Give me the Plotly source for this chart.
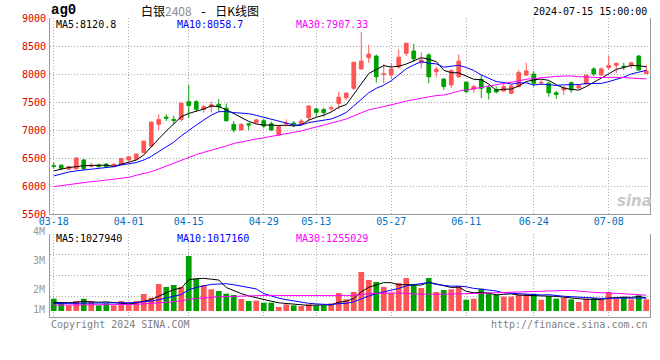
import plotly.graph_objects as go
import pandas as pd

# ---------------- data ----------------
dates = (["03-18", "03-19", "03-20", "03-21", "03-22", "03-25", "03-26", "03-27", "03-28", "03-29"]
         + ["04-01", "04-02", "04-03", "04-08", "04-09", "04-10", "04-11", "04-12", "04-15", "04-16",
            "04-17", "04-18", "04-19", "04-22", "04-23", "04-24", "04-25", "04-26", "04-29", "04-30"]
         + ["05-06", "05-07", "05-08", "05-09", "05-10", "05-13", "05-14", "05-15", "05-16", "05-17",
            "05-20", "05-21", "05-22", "05-23", "05-24", "05-27", "05-28", "05-29", "05-30", "05-31"]
         + ["06-03", "06-04", "06-05", "06-06", "06-07", "06-11", "06-12", "06-13", "06-14", "06-17",
            "06-18", "06-19", "06-20", "06-21", "06-24", "06-25", "06-26", "06-27", "06-28"]
         + ["07-01", "07-02", "07-03", "07-04", "07-05", "07-08", "07-09", "07-10", "07-11", "07-12", "07-15"])

opens = [6360, 6370, 6300, 6305, 6465, 6350, 6375, 6390, 6345, 6390,
         6465, 6475, 6595, 6715, 7100, 7230, 7190, 7190, 7505, 7505,
         7370, 7415, 7460, 7390, 7100, 7000, 7110, 7130, 7165, 7110,
         6910, 7110, 7125, 7100, 7220, 7375, 7365, 7380, 7475, 7575,
         7745, 8090, 8290, 8320, 7990, 7980, 8125, 8370, 8410, 8200,
         8340, 8040, 7910, 7805, 7950, 7855, 7730, 7905, 7760, 7720,
         7695, 7655, 7775, 7980, 8000, 7840, 7835, 7665, 7715, 7845,
         7750, 7820, 8090, 7980, 8115, 8155, 8140, 8150, 8320, 8010]
highs = [6420, 6390, 6360, 6510, 6480, 6420, 6400, 6410, 6400, 6505,
         6540, 6580, 6810, 7150, 7280, 7280, 7255, 7485, 7800, 7535,
         7445, 7505, 7550, 7475, 7160, 7120, 7130, 7200, 7200, 7150,
         7070, 7190, 7160, 7195, 7430, 7400, 7400, 7430, 7685, 7660,
         8210, 8745, 8520, 8350, 8180, 8190, 8440, 8550, 8535, 8385,
         8370, 8130, 7925, 8085, 8350, 7855, 7805, 7980, 7805, 7775,
         7835, 7805, 8070, 8200, 8055, 7905, 7865, 7695, 7785, 7865,
         7820, 7980, 8120, 8120, 8330, 8200, 8200, 8220, 8340, 8160]
lows = [6310, 6300, 6290, 6300, 6290, 6330, 6330, 6320, 6335, 6375,
        6435, 6470, 6590, 6700, 7000, 7160, 7100, 7150, 7210, 7330,
        7310, 7310, 7330, 7150, 6955, 6990, 7000, 7120, 7030, 6980,
        6900, 7060, 7050, 7080, 7150, 7240, 7240, 7330, 7370, 7535,
        7715, 8085, 8200, 7845, 7835, 7905, 8100, 8320, 8220, 8100,
        7835, 7940, 7715, 7745, 7935, 7665, 7665, 7565, 7545, 7655,
        7685, 7645, 7755, 7965, 7775, 7805, 7595, 7560, 7625, 7665,
        7745, 7815, 7965, 7980, 8070, 8010, 8070, 8100, 8060, 8000]
closes = [6350, 6315, 6345, 6500, 6305, 6370, 6345, 6345, 6390, 6490,
          6520, 6570, 6800, 7140, 7185, 7210, 7170, 7480, 7435, 7370,
          7415, 7450, 7415, 7165, 7000, 7100, 7090, 7180, 7070, 7000,
          7060, 7120, 7110, 7160, 7430, 7315, 7310, 7395, 7585, 7660,
          8210, 8230, 8355, 7950, 8000, 8090, 8300, 8550, 8270, 8250,
          7950, 8085, 7775, 8060, 8230, 7685, 7775, 7745, 7665, 7680,
          7775, 7785, 8025, 8055, 7835, 7850, 7665, 7635, 7760, 7715,
          7790, 7980, 8000, 8090, 8150, 8190, 8130, 8200, 8070, 8055]

volumes = [967000, 602000, 445000, 785000, 967000, 785000, 445000, 602000, 445000, 785000,
           523000, 785000, 1334000, 1046000, 2118000, 1883000, 2040000, 1883000, 4315000, 2537000,
           2040000, 1700000, 1569000, 1360000, 1255000, 941000, 785000, 811000, 654000, 654000,
           314000, 523000, 445000, 392000, 523000, 445000, 445000, 602000, 1412000, 915000,
           1491000, 3060000, 2432000, 2275000, 1883000, 1438000, 2197000, 2589000, 2118000, 1804000,
           2589000, 1491000, 1647000, 1700000, 1961000, 889000, 967000, 1752000, 1438000, 1281000,
           1124000, 1124000, 1281000, 1334000, 1360000, 889000, 1177000, 967000, 1046000, 915000,
           706000, 967000, 1020000, 863000, 1491000, 967000, 1098000, 915000, 1229000, 915000]

ma5_head = [6270, 6300, 6330, 6345]
ma10_head = [6180, 6215, 6250, 6270, 6285, 6300, 6315, 6330, 6345]
ma30_head = [5988, 6006, 6024, 6054, 6066, 6078, 6089, 6107, 6119, 6137,
             6155, 6191, 6220, 6256, 6304, 6357, 6411, 6464, 6512, 6560,
             6601, 6637, 6667, 6714, 6760, 6790, 6815, 6840, 6862]
vma5_head = [680000, 660000, 650000, 690000]
vma10_head = [590000, 595000, 600000, 605000, 615000, 625000, 640000, 650000, 665000]
vma30_head = [465000, 465000, 465000, 470000, 480000, 490000, 490000, 495000, 495000, 505000,
              510000, 525000, 555000, 575000, 630000, 680000, 735000, 790000, 920000, 985000,
              1040000, 1080000, 1115000, 1140000, 1165000, 1180000, 1195000, 1208000, 1222000]

tick_dates = ["03-18", "04-01", "04-15", "04-29", "05-13", "05-27", "06-11", "06-24", "07-08"]
price_ticks = [5500, 6000, 6500, 7000, 7500, 8000, 8500, 9000]
vol_tick_labels = ["4M", "3M", "2M", "1M"]

symbol = "ag0"
title_name = "白银"
title_code = "2408"
title_sep = " - "
title_tail = "日K线图"
timestamp = "2024-07-15 15:00:00"
price_legend = ["MA5:8120.8", "MA10:8058.7", "MA30:7907.33"]
vol_legend = ["MA5:1027940", "MA10:1017160", "MA30:1255029"]
copyright_text = "Copyright 2024 SINA.COM"
url_text = "http://finance.sina.com.cn"


def moving_avg(values, n, head):
    out = pd.Series(values, dtype=float).rolling(n).mean().tolist()
    for i, v in enumerate(head):
        out[i] = v
    return out


ma5 = moving_avg(closes, 5, ma5_head)
ma10 = moving_avg(closes, 10, ma10_head)
ma30 = moving_avg(closes, 30, ma30_head)
vma5 = moving_avg(volumes, 5, vma5_head)
vma10 = moving_avg(volumes, 10, vma10_head)
vma30 = moving_avg(volumes, 30, vma30_head)

# ---------------- style ----------------
RED = "#ff5555"
GREEN = "#00a000"
MA_COLORS = ["#000000", "#0000ff", "#ff00ff"]
AXIS = "#999999"
GRID = "#aaaaaa"
MONO = "DejaVu Sans Mono"
CJK = "Noto Sans CJK SC"
W, H = 660, 360
L, R, T, B = 50, 650, 18, 317  # plot area pixel box
PRICE_BOTTOM = 214
VOL_TOP = 234
VOL_PER_PX = 78450
VOL_BASE_PX = 311


def px(x):
    return (x - L) / (R - L)


def py(y):
    return (B - y) / (B - T)


fig = go.Figure()

fig.add_trace(go.Candlestick(
    x=dates, open=opens, high=highs, low=lows, close=closes,
    increasing=dict(line=dict(color=RED, width=1), fillcolor=RED),
    decreasing=dict(line=dict(color=GREEN, width=1), fillcolor=GREEN),
    whiskerwidth=0, xaxis="x", yaxis="y", hoverinfo="skip", showlegend=False))

for series, col in zip([ma5, ma10, ma30], MA_COLORS):
    fig.add_trace(go.Scatter(x=dates, y=series, mode="lines", line=dict(color=col, width=1),
                             xaxis="x", yaxis="y", hoverinfo="skip", showlegend=False))

bar_colors = [RED if c > o else GREEN for o, c in zip(opens, closes)]
fig.add_trace(go.Bar(x=dates, y=volumes, marker=dict(color=bar_colors, line=dict(width=0)),
                     width=0.76, xaxis="x2", yaxis="y2", hoverinfo="skip", showlegend=False))

for series, col in zip([vma5, vma10, vma30], MA_COLORS):
    fig.add_trace(go.Scatter(x=dates, y=series, mode="lines", line=dict(color=col, width=1),
                             xaxis="x2", yaxis="y2", hoverinfo="skip", showlegend=False))

vol_lo = -(B - VOL_BASE_PX) * VOL_PER_PX
vol_hi = (VOL_BASE_PX - VOL_TOP) * VOL_PER_PX
vol_grid = [vol_lo + k * (vol_hi - vol_lo) / 4 for k in (1, 2, 3)] + [vol_hi * 0.9999]

common_x = dict(type="category", range=[-0.5, len(dates) - 0.5], tickmode="array",
                tickvals=tick_dates, ticktext=tick_dates, showgrid=True, gridcolor=GRID,
                griddash="1px,2px", gridwidth=1, showline=True, linecolor=AXIS, linewidth=1,
                ticks="", zeroline=False, fixedrange=True)

fig.update_layout(
    width=W, height=H, autosize=False,
    margin=dict(l=L, r=W - R, t=T, b=H - B, pad=0),
    paper_bgcolor="white", plot_bgcolor="white",
    boxgap=0.3,
    font=dict(family=MONO, size=10, color="#000000"),
    xaxis=dict(domain=[0, 1], anchor="y", rangeslider=dict(visible=False),
               tickfont=dict(family=MONO, size=10, color="#0070c0"), ticklabelstandoff=-2,
               **common_x),
    xaxis2=dict(domain=[0, 1], anchor="y2", showticklabels=False, **common_x),
    yaxis=dict(domain=[py(PRICE_BOTTOM), 1], range=[price_ticks[0], price_ticks[-1]],
               tickmode="array", tickvals=price_ticks, ticktext=[str(v) for v in price_ticks],
               tickfont=dict(family=MONO, size=10, color="#dd0000"), ticks="",
               ticklabelstandoff=1,
               showgrid=True, gridcolor=GRID, griddash="1px,2px", gridwidth=1,
               showline=True, mirror=True, linecolor=AXIS, linewidth=1, zeroline=False,
               fixedrange=True),
    yaxis2=dict(domain=[0, py(VOL_TOP)], range=[vol_lo, vol_hi], tickmode="array",
                tickvals=vol_grid, showticklabels=False, ticks="",
                showgrid=True, gridcolor=GRID, griddash="1px,2px", gridwidth=1,
                showline=True, mirror=True, linecolor=AXIS, linewidth=1, zeroline=False,
                fixedrange=True),
)

ann = []


def text(x, y, s, color="#000000", size=10, anchor="left", family=MONO):
    ann.append(dict(x=px(x), y=py(y), xref="paper", yref="paper", text=s, showarrow=False,
                    xanchor=anchor, yanchor="middle", font=dict(family=family, size=size, color=color)))


text(49, 10, "<b>" + symbol + "</b>", size=14, family="Liberation Mono")
text(139, 10.5,
     title_name
     + "<span style='color:#8c8c8c'>" + title_code + "</span>"
     + "<span style='font-family:DejaVu Sans Mono;font-size:13px'>" + title_sep + "</span>"
     + title_tail,
     size=12, family=CJK)
text(649, 11, timestamp, anchor="right")
for s, x, col in zip(price_legend, [54, 175, 294], MA_COLORS):
    text(x, 24.5, s, color=col)
for s, x, col in zip(vol_legend, [54, 175, 294], MA_COLORS):
    text(x, 238.5, s, color=col)
for s, y in zip(vol_tick_labels, [231.5, 260, 289, 309]):
    text(47, y, s, color="#999999", anchor="right")
text(49, 324, copyright_text, color="#808080")
text(650, 324, url_text, color="#808080", anchor="right")
text(634, 201, "<b><i>sina</i></b>", color="#c8c8c8", size=15, anchor="center", family="DejaVu Sans")

fig.update_layout(annotations=ann)
fig.write_html("out.html", config={"displayModeBar": False},
               post_script="document.body.style.margin='0';document.body.style.padding='0';")
